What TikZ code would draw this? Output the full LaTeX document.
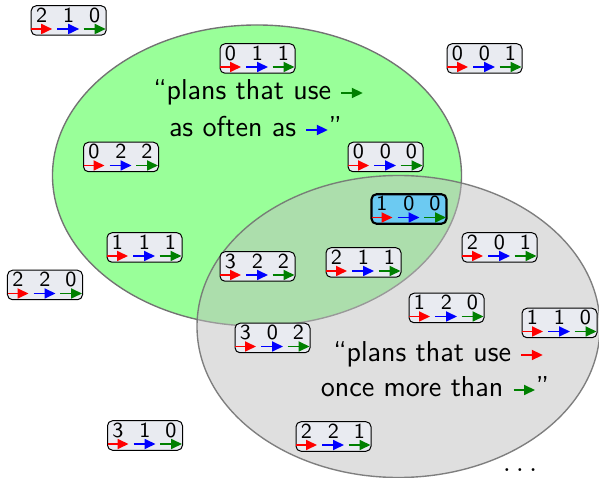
\documentclass[tikz,border=0pt]{standalone}
\usetikzlibrary{arrows.meta}
\definecolor{boxfill}{RGB}{233,235,241}
\definecolor{hifill}{RGB}{108,202,242}
\definecolor{dgreen}{RGB}{0,128,0}
\tikzset{
  arr/.style={line width=0.7pt,-{Triangle[length=4.4pt,width=4pt]}},
  planbox/.style={draw,rounded corners=2pt,line width=0.4pt,fill=boxfill,
    minimum width=30pt,minimum height=11.8pt,inner sep=0pt},
  hibox/.style={planbox,fill=hifill,line width=0.85pt},
  digit/.style={anchor=base,inner sep=0pt,font=\sffamily\fontsize{8.6}{9}\selectfont},
  txt/.style={anchor=base,inner sep=0pt,font=\sffamily\fontsize{11.5}{13}\selectfont},
  setA/.style={fill=green!40,draw=black!55,line width=0.55pt},
  setB/.style={fill=black!25,fill opacity=0.5,draw=black!55,draw opacity=0.9,line width=0.55pt}
}
\newcommand\iarr[1]{\tikz[baseline=-2.8pt]\draw[arr,#1] (0pt,0pt)--(8.6pt,0pt);}
\newcommand\plan[6]{%
  \node[#1] (#2) at (#3) {};
  \node[digit] (#2-a) at ([shift={(-27,1.7)}]#2.center) {#4};
  \node[digit] (#2-b) at ([shift={(0,1.7)}]#2.center) {#5};
  \node[digit] (#2-c) at ([shift={(26,1.7)}]#2.center) {#6};
  \draw[arr,red] ([shift={(-37.5,8.5)}]#2.center) -- ++(21,0);
  \draw[arr,blue] ([shift={(-11.5,8.5)}]#2.center) -- ++(22,0);
  \draw[arr,dgreen] ([shift={(15,8.5)}]#2.center) -- ++(22,0);
}
\begin{document}
\begin{tikzpicture}[x=0.4pt,y=-0.4pt]
\useasboundingbox (0,0) rectangle (599,478);
\path[setA] (257,175.5) ellipse [x radius=81.8pt, y radius=60.2pt];
\path[setB] (398.5,326.5) ellipse [x radius=80.6pt, y radius=60.4pt];
% texts
\node[txt] (ta1) at (258.5,100) {``plans that use \iarr{dgreen}};
\node[txt] (ta2) at (255.5,137) {as often as \iarr{blue}''};
\node[txt] (tb1) at (438.5,362) {``plans that use \iarr{red}};
\node[txt] (tb2) at (435,397) {once more than \iarr{dgreen}''};
\node[txt] (dots) at (520,471) {$\ldots$};
% plans
\plan{planbox}{p210}{68.7,20.5}{2}{1}{0}
\plan{planbox}{p011}{257.5,58.5}{0}{1}{1}
\plan{planbox}{p001}{484.5,58.5}{0}{0}{1}
\plan{planbox}{p022}{121,157}{0}{2}{2}
\plan{planbox}{p000}{385.5,157}{0}{0}{0}
\plan{hibox}{p100}{409,209}{1}{0}{0}
\plan{planbox}{p111}{144.5,247.5}{1}{1}{1}
\plan{planbox}{p201}{499.5,247.5}{2}{0}{1}
\plan{planbox}{p220}{45,285}{2}{2}{0}
\plan{planbox}{p322}{257.5,266.5}{3}{2}{2}
\plan{planbox}{p211}{363.5,262.5}{2}{1}{1}
\plan{planbox}{p120}{446.5,308}{1}{2}{0}
\plan{planbox}{p110}{559.5,323}{1}{1}{0}
\plan{planbox}{p302}{272.5,338}{3}{0}{2}
\plan{planbox}{p310}{145,435.5}{3}{1}{0}
\plan{planbox}{p221}{333.5,436.5}{2}{2}{1}
\end{tikzpicture}
\end{document}
